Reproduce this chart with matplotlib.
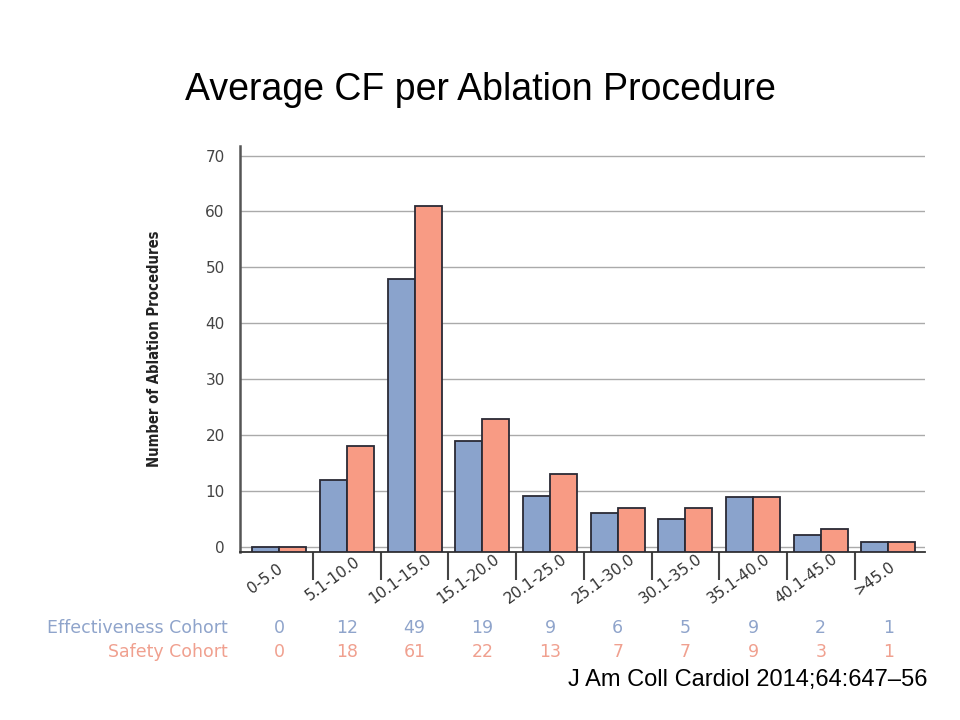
import numpy as np
import matplotlib
matplotlib.use('Agg')
import matplotlib.pyplot as plt
from matplotlib import font_manager, transforms

# data ###################################################################
categories = ['0-5.0', '5.1-10.0', '10.1-15.0', '15.1-20.0', '20.1-25.0',
              '25.1-30.0', '30.1-35.0', '35.1-40.0', '40.1-45.0', '>45.0']
# bar heights as drawn in the figure
eff_bars = [0, 12, 48, 19, 9.2, 6.2, 5, 9, 2.1, 0.9]
saf_bars = [0, 18, 61, 23, 13, 7, 7, 9, 3.2, 0.9]
# counts printed in the table under the axis
eff_counts = ['0', '12', '49', '19', '9', '6', '5', '9', '2', '1']
saf_counts = ['0', '18', '61', '22', '13', '7', '7', '9', '3', '1']
yticks = [0, 10, 20, 30, 40, 50, 60, 70]

blue = '#8aa3cc'
salmon = '#f89b84'
blue_txt = '#8fa4cb'
salmon_txt = '#f0a08f'

# look for a condensed bold face for the y label, else plain Liberation Sans bold
ylab_prop = None
for f in font_manager.fontManager.ttflist:
    if ('Narrow' in f.name or 'Condensed' in f.name or 'condensed' in str(f.stretch)) \
            and f.weight in ('bold', 700, 600, 'semibold', 'demibold'):
        ylab_prop = font_manager.FontProperties(fname=f.fname, size=10.6)
        break
if ylab_prop is None:
    ylab_prop = font_manager.FontProperties(family='Liberation Sans', weight='bold', size=10.5)

fig = plt.figure(figsize=(9.6, 7.2), dpi=100)
ax = fig.add_axes([0.25, 0.2330, 0.7135, 0.5642])

x = np.arange(len(categories))
w = 0.40
ymin = -0.9
eff = np.array(eff_bars)
saf = np.array(saf_bars)
ax.bar(x - w / 2, eff - ymin, bottom=ymin, width=w, color=blue,
       edgecolor='#2a2a35', linewidth=1.3, zorder=3)
ax.bar(x + w / 2, saf - ymin, bottom=ymin, width=w, color=salmon,
       edgecolor='#2a2a35', linewidth=1.3, zorder=3)

ax.set_xlim(-0.58, 9.54)
ax.set_ylim(ymin, 71.7)
ax.set_yticks(yticks)
ax.set_yticklabels([str(t) for t in yticks], fontsize=11, color='#444444')
ax.tick_params(axis='y', length=0, pad=11)
ax.yaxis.grid(True, color='#aaaaaa', linewidth=1.0, zorder=0)
ax.set_axisbelow(True)

ax.set_xticks(x[:-1] + 0.5)
ax.set_xticklabels([])
ax.tick_params(axis='x', length=20, width=1.5, color='#444444', direction='out')

for s in ['top', 'right']:
    ax.spines[s].set_visible(False)
ax.spines['left'].set_color('#555555')
ax.spines['left'].set_linewidth(1.8)
ax.spines['bottom'].set_color('#333333')
ax.spines['bottom'].set_linewidth(1.3)

# rotated category labels
xt = ax.get_xaxis_transform()
for i, c in enumerate(categories):
    ax.text(i - 0.21, -0.066, c, transform=xt, rotation=36, ha='center',
            va='center', rotation_mode='anchor', fontsize=11, color='#333333')

ax.set_ylabel('Number of Ablation Procedures', fontproperties=ylab_prop,
              color='#222222')
ax.yaxis.set_label_coords(-0.114, 0.5)

# table under the chart
tb = transforms.blended_transform_factory(ax.transData, fig.transFigure)
fig.text(228 / 960, 1 - 628 / 720, 'Effectiveness Cohort', ha='right', va='center',
         fontsize=12.5, color=blue_txt)
fig.text(228 / 960, 1 - 652 / 720, 'Safety Cohort', ha='right', va='center',
         fontsize=12.5, color=salmon_txt)
for i in range(len(categories)):
    ax.text(i, 1 - 628 / 720, eff_counts[i], transform=tb, ha='center',
            va='center', fontsize=12.5, color=blue_txt)
    ax.text(i, 1 - 652 / 720, saf_counts[i], transform=tb, ha='center',
            va='center', fontsize=12.5, color=salmon_txt)

fig.text(0.5, 1 - 90 / 720, 'Average CF per Ablation Procedure',
         family='Liberation Sans', fontsize=27, ha='center', va='center')
fig.text(928 / 960, 1 - 680 / 720, 'J Am Coll Cardiol 2014;64:647\u201356',
         family='Liberation Sans', fontsize=17, ha='right', va='center')

fig.savefig('out.png', dpi=100)
